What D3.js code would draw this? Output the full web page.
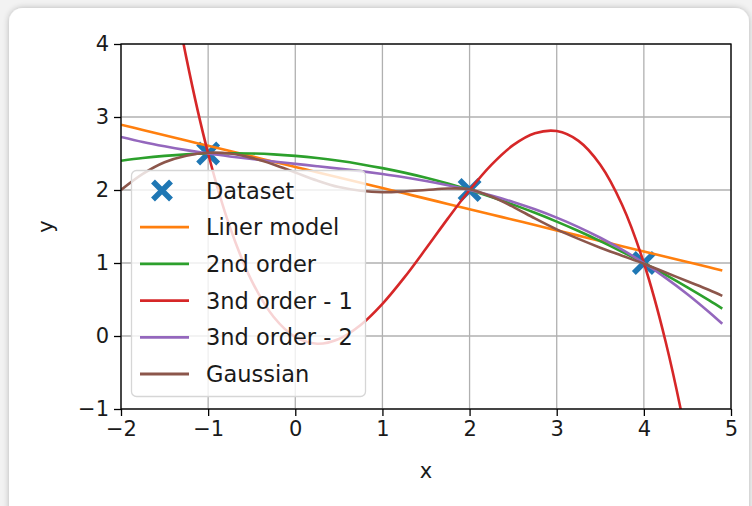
<!DOCTYPE html>
<html><head><meta charset="utf-8">
<script src="https://cdn.jsdelivr.net/npm/d3@7"></script>
<style>
html,body{margin:0;padding:0;background:#f2f2f2;}
svg{display:block;}
</style></head>
<body>
<svg id="chart" width="752" height="506"></svg>
<script>
// ---- data ----
const dataX = [-1, 2, 4];
const dataY = [2.5, 2, 1];
const xs = [-2, -1.75, -1.5, -1.25, -1, -0.75, -0.5, -0.25, 0, 0.25, 0.5, 0.75, 1, 1.25, 1.5, 1.75, 2, 2.25, 2.5, 2.75, 3, 3.25, 3.5, 3.75, 4, 4.25, 4.5, 4.75, 4.9];
const linearY = [2.895, 2.822, 2.750, 2.678, 2.605, 2.533, 2.461, 2.388, 2.316, 2.243, 2.171, 2.099, 2.026, 1.954, 1.882, 1.809, 1.737, 1.665, 1.592, 1.520, 1.447, 1.375, 1.303, 1.230, 1.158, 1.086, 1.013, 0.941, 0.897];
const order2Y = [2.400, 2.438, 2.467, 2.488, 2.500, 2.504, 2.500, 2.488, 2.467, 2.438, 2.400, 2.354, 2.300, 2.238, 2.167, 2.088, 2.000, 1.904, 1.800, 1.688, 1.567, 1.438, 1.300, 1.154, 1.000, 0.838, 0.667, 0.488, 0.376];
const order3aY = [9.84, 7.451, 5.450, 3.810, 2.500, 1.492, 0.756, 0.264, -0.013, -0.106, -0.041, 0.150, 0.440, 0.799, 1.198, 1.608, 2.000, 2.345, 2.614, 2.777, 2.807, 2.673, 2.346, 1.798, 1.000, -0.078, -1.465, -3.189, -4.398];
const order3bY = [2.726, 2.657, 2.598, 2.546, 2.500, 2.460, 2.424, 2.390, 2.358, 2.326, 2.293, 2.258, 2.218, 2.174, 2.124, 2.066, 2.000, 1.924, 1.836, 1.735, 1.621, 1.492, 1.346, 1.182, 1.000, 0.797, 0.573, 0.326, 0.167];
const gaussY = [2.00, 2.22, 2.38, 2.47, 2.51, 2.50, 2.44, 2.35, 2.24, 2.13, 2.04, 1.99, 1.97, 1.98, 2.00, 2.02, 2.01, 1.91, 1.77, 1.61, 1.46, 1.33, 1.21, 1.10, 0.99, 0.87, 0.75, 0.63, 0.55];
const seriesNames = ["Liner model", "2nd order", "3nd order - 1", "3nd order - 2", "Gaussian"];
const seriesColors = ["#ff7f0e", "#2ca02c", "#d62728", "#9467bd", "#8c564b"];
const xTicks = [-2, -1, 0, 1, 2, 3, 4, 5];
const yTicks = [-1, 0, 1, 2, 3, 4];
const xLabel = "x", yLabel = "y", datasetName = "Dataset";

// ---- drawing ----
const svg = d3.select("#chart");
const FONT = "DejaVu Sans";
const defs = svg.append("defs");
const flt = defs.append("filter").attr("id","sh").attr("x","-5%").attr("y","-5%").attr("width","110%").attr("height","110%");
flt.append("feGaussianBlur").attr("in","SourceAlpha").attr("stdDeviation",3);
flt.append("feComponentTransfer").append("feFuncA").attr("type","linear").attr("slope",0.25);
const mg = flt.append("feMerge"); mg.append("feMergeNode"); mg.append("feMergeNode").attr("in","SourceGraphic");
svg.append("rect").attr("x",9).attr("y",8).attr("width",740).attr("height",520).attr("rx",14).attr("fill","#fff").attr("filter","url(#sh)");

const L = 121, R = 731, T = 44, B = 409;
const x = d3.scaleLinear().domain([-2, 5]).range([L, R]);
const y = d3.scaleLinear().domain([-1, 4]).range([B, T]);

defs.append("clipPath").attr("id","clip").append("rect").attr("x",L).attr("y",T).attr("width",R-L).attr("height",B-T);

// grid
const g = svg.append("g");
g.selectAll(".gx").data(xTicks).join("line").attr("x1",d=>x(d)).attr("x2",d=>x(d)).attr("y1",T).attr("y2",B).attr("stroke","#b0b0b0").attr("stroke-width",1.3);
g.selectAll(".gy").data(yTicks).join("line").attr("y1",d=>y(d)).attr("y2",d=>y(d)).attr("x1",L).attr("x2",R).attr("stroke","#b0b0b0").attr("stroke-width",1.3);

// dataset markers
const plot = svg.append("g").attr("clip-path","url(#clip)");
function drawX(sel, cx, cy, mk){
  sel.append("path").attr("d",`M${cx-mk},${cy-mk}L${cx+mk},${cy+mk}M${cx-mk},${cy+mk}L${cx+mk},${cy-mk}`)
    .attr("stroke","#1f77b4").attr("stroke-width",5.5).attr("fill","none");
}
dataX.forEach((d,i)=>drawX(plot, x(d), y(dataY[i]), 10));

// lines
const allY = [linearY, order2Y, order3aY, order3bY, gaussY];
const line = d3.line().x((d,i)=>x(xs[i])).y(d=>y(d)).curve(d3.curveCatmullRom.alpha(0.5));
allY.forEach((ys,k)=>{
  plot.append("path").attr("d",line(ys)).attr("fill","none").attr("stroke",seriesColors[k]).attr("stroke-width",2.6);
});

// axes
const fmt = d=>d3.format("d")(d).replace("-","\u2212");
const xAxis = d3.axisBottom(x).tickValues(xTicks).tickSize(7).tickPadding(5).tickFormat(fmt);
const yAxis = d3.axisLeft(y).tickValues(yTicks).tickSize(7).tickPadding(5).tickFormat(fmt);
const gx = svg.append("g").attr("transform",`translate(0,${B})`).call(xAxis);
const gy = svg.append("g").attr("transform",`translate(${L},0)`).call(yAxis);
[gx,gy].forEach(a=>{
  a.select(".domain").remove();
  a.selectAll(".tick line").attr("stroke","#000").attr("stroke-width",1.3);
  a.selectAll(".tick text").attr("fill","#1a1a1a").style("font-family",FONT).style("font-size","21px");
});
svg.append("rect").attr("x",L).attr("y",T).attr("width",R-L).attr("height",B-T).attr("fill","none").attr("stroke","#000").attr("stroke-width",1.3);

svg.append("text").attr("x",(L+R)/2).attr("y",478).attr("text-anchor","middle").style("font-family",FONT).style("font-size","21px").attr("fill","#1a1a1a").text(xLabel);
svg.append("text").attr("transform",`translate(53,${(T+B)/2}) rotate(-90)`).attr("text-anchor","middle").style("font-family",FONT).style("font-size","21px").attr("fill","#1a1a1a").text(yLabel);

// legend
const lg = svg.append("g");
lg.append("rect").attr("x",131.5).attr("y",170.5).attr("width",234).attr("height",226).attr("rx",5)
  .attr("fill","#fff").attr("fill-opacity",0.8).attr("stroke","#d6d6d6").attr("stroke-width",1.3);
const rowY = i => 190.5 + i*36.7;
drawX(lg, 162, rowY(0), 9);
lg.append("text").attr("x",206).attr("y",rowY(0)).attr("dy","0.36em").style("font-family",FONT).style("font-size","22.5px").attr("fill","#1a1a1a").text(datasetName);
seriesNames.forEach((n,k)=>{
  const yy = rowY(k+1);
  lg.append("line").attr("x1",140).attr("x2",189).attr("y1",yy).attr("y2",yy).attr("stroke",seriesColors[k]).attr("stroke-width",2.8);
  lg.append("text").attr("x",206).attr("y",yy).attr("dy","0.36em").style("font-family",FONT).style("font-size","22.5px").attr("fill","#1a1a1a").text(n);
});
</script>
</body></html>
